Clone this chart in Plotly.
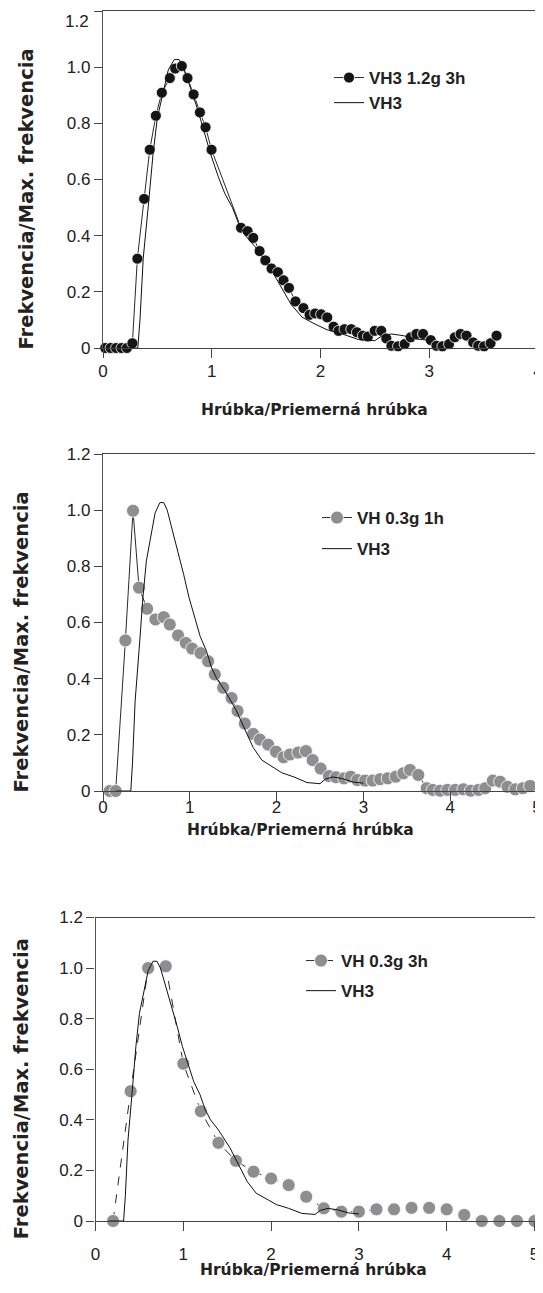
import plotly.graph_objects as go

# ── Data ─────────────────────────────────────────────────────────────────────
vh3_x = [0.15, 0.32, 0.34, 0.37, 0.42, 0.46, 0.50, 0.55, 0.60, 0.655, 0.70, 0.74, 0.80,
         0.87, 0.93, 0.99, 1.06, 1.12, 1.19, 1.25, 1.31, 1.40, 1.53, 1.65, 1.73,
         1.83, 1.94, 2.06, 2.20, 2.35, 2.50, 2.56, 2.65, 2.76, 2.88, 3.00]
vh3_y = [0.0, 0.0, 0.10, 0.32, 0.52, 0.69, 0.82, 0.91, 0.99, 1.027, 1.027, 1.0, 0.93,
         0.85, 0.77, 0.69, 0.61, 0.55, 0.50, 0.44, 0.40, 0.36, 0.29, 0.21, 0.155,
         0.11, 0.087, 0.065, 0.05, 0.03, 0.026, 0.042, 0.05, 0.044, 0.032, 0.028]

s1_x = [0.02, 0.07, 0.12, 0.17, 0.22, 0.27, 0.316, 0.378, 0.43, 0.486, 0.541, 0.615,
        0.664, 0.725, 0.777, 0.833, 0.891, 0.943, 0.998, 1.269, 1.33, 1.382, 1.44,
        1.493, 1.55, 1.608, 1.66, 1.71, 1.77, 1.843, 1.899, 1.951, 2.006, 2.062,
        2.12, 2.166, 2.221, 2.283, 2.335, 2.39, 2.436, 2.498, 2.559, 2.605, 2.652,
        2.713, 2.774, 2.829, 2.882, 2.943, 3.014, 3.066, 3.121, 3.182, 3.235,
        3.288, 3.343, 3.404, 3.45, 3.505, 3.564, 3.619]
s1_y = [0, 0, 0, 0, 0, 0.017, 0.318, 0.531, 0.706, 0.827, 0.909, 0.961, 0.995, 1.004,
        0.961, 0.903, 0.839, 0.786, 0.706, 0.428, 0.416, 0.392, 0.345, 0.312, 0.283,
        0.27, 0.241, 0.214, 0.166, 0.142, 0.118, 0.123, 0.12, 0.109, 0.076, 0.061,
        0.067, 0.067, 0.056, 0.044, 0.041, 0.061, 0.061, 0.034, 0.008, 0.006, 0.014,
        0.038, 0.05, 0.05, 0.028, 0.008, 0.006, 0.014, 0.038, 0.05, 0.044, 0.02,
        0.008, 0.006, 0.017, 0.044]

s2_x = [0.077, 0.146, 0.258, 0.346, 0.415, 0.508, 0.604, 0.70, 0.769, 0.865, 0.954,
        1.027, 1.123, 1.211, 1.288, 1.384, 1.481, 1.55, 1.634, 1.73, 1.807, 1.903,
        1.992, 2.08, 2.153, 2.249, 2.338, 2.415, 2.507, 2.603, 2.684, 2.776, 2.853,
        2.93, 3.019, 3.107, 3.192, 3.28, 3.373, 3.46, 3.537, 3.633, 3.73, 3.799,
        3.884, 3.968, 4.057, 4.152, 4.237, 4.325, 4.403, 4.491, 4.575, 4.66, 4.749,
        4.837, 4.92]
s2_y = [0, 0, 0.536, 0.998, 0.724, 0.649, 0.611, 0.619, 0.593, 0.554, 0.527, 0.507,
        0.491, 0.462, 0.415, 0.368, 0.331, 0.285, 0.24, 0.203, 0.183, 0.165, 0.14,
        0.12, 0.13, 0.137, 0.142, 0.11, 0.08, 0.053, 0.049, 0.045, 0.051, 0.039,
        0.037, 0.037, 0.042, 0.045, 0.051, 0.063, 0.075, 0.057, 0.01, 0.004, 0.001,
        0.004, 0.004, 0.006, 0.001, 0.004, 0.01, 0.037, 0.033, 0.015, 0.006, 0.01,
        0.018]

s3_x = [0.2, 0.4, 0.6, 0.8, 1.0, 1.2, 1.4, 1.6, 1.8, 2.0, 2.2, 2.4, 2.6, 2.8, 3.0,
        3.2, 3.4, 3.6, 3.8, 4.0, 4.2, 4.4, 4.6, 4.8, 5.0]
s3_y = [0, 0.513, 1.0, 1.007, 0.622, 0.434, 0.309, 0.238, 0.195, 0.168, 0.142, 0.096,
        0.05, 0.037, 0.037, 0.046, 0.046, 0.052, 0.052, 0.046, 0.024, 0.0, 0.0, 0.0, 0.0]

series_names = ["VH3 1.2g 3h", "VH 0.3g 1h", "VH 0.3g 3h"]
y_ticks = [0, 0.2, 0.4, 0.6, 0.8, 1.0, 1.2]
y_ticktext = ["0", "0.2", "0.4", "0.6", "0.8", "1.0", "1.2"]
x_title = "Hrúbka/Priemerná hrúbka"
y_title = "Frekvencia/Max. frekvencia"

# the page body keeps its default 8px margin, so the figure is drawn
# 8px smaller and every page position is shifted back by that amount
PAGE_W, PAGE_H, OFF = 543, 1293, 8
W, H = PAGE_W - OFF, PAGE_H - OFF


def fx(px):
    return (px - OFF) / W


def fy(py):
    return 1 - (py - OFF) / H


TICK_FONT = dict(family="Arial, Liberation Sans, sans-serif", size=17, color="#222")
BOLD = "DejaVu Sans, sans-serif"
LEG_FONT = dict(family="Arial, Liberation Sans, sans-serif", size=17, color="#222",
                weight="bold")

# ── Panel geometry (pixels in the 543x1293 page) ─────────────────────────────
panels = [
    dict(sx=s1_x, sy=s1_y, xmax=4, px=(103, 538), py=(11, 348),
         color="#151515", size=11, dash="solid", standoff=-2,
         leg=(329, 60, 0), ytl=26, xtl=(314, 410), top_label=False),
    dict(sx=s2_x, sy=s2_y, xmax=5, px=(103, 537), py=(454, 791),
         color="#8e8e90", size=13, dash="solid", standoff=-9,
         leg=(317, 500, 6), ytl=21, xtl=(300, 830), top_label=True),
    dict(sx=s3_x, sy=s3_y, xmax=5, px=(95.5, 534.5), py=(917.5, 1221),
         color="#8e8e90", size=13, dash="dash", standoff=8,
         leg=(301, 943, 5), ytl=21, xtl=(313, 1270), top_label=True),
]

fig = go.Figure()
annotations = []

for i, p in enumerate(panels):
    n = i + 1
    sfx = "" if n == 1 else str(n)
    leg = "legend" if n == 1 else f"legend{n}"
    grp = p["leg"][2] > 0

    fig.add_trace(go.Scatter(
        x=p["sx"], y=p["sy"], mode="lines+markers", name=series_names[i],
        xaxis=f"x{sfx}", yaxis=f"y{sfx}", legend=leg,
        legendgroup=f"a{n}" if grp else None,
        cliponaxis=False,
        line=dict(color="#2a2a2a", width=1, dash=p["dash"]),
        marker=dict(color=p["color"], size=p["size"],
                    line=dict(color="white", width=0.8)),
    ))
    fig.add_trace(go.Scatter(
        x=vh3_x, y=vh3_y, mode="lines", name="VH3",
        xaxis=f"x{sfx}", yaxis=f"y{sfx}", legend=leg,
        legendgroup=f"b{n}" if grp else None,
        cliponaxis=False,
        line=dict(color="#111", width=1),
    ))

    xd = [fx(p["px"][0]), fx(p["px"][1])]
    yd = [fy(p["py"][1]), fy(p["py"][0])]

    ticktext = list(y_ticktext)
    if not p["top_label"]:
        # top label sits lower in the reference (page edge); drawn as annotation
        ticktext[-1] = ""
        annotations.append(dict(
            text=y_ticktext[-1], xref="paper", yref="paper",
            x=fx(91), y=fy(21.5), xanchor="right", yanchor="middle",
            showarrow=False, font=TICK_FONT,
        ))

    common_x = dict(domain=xd, range=[0, p["xmax"]], tickvals=list(range(p["xmax"] + 1)),
                    showgrid=False, zeroline=False, fixedrange=True, automargin=False)
    common_y = dict(domain=yd, range=[0, 1.2], tickvals=y_ticks,
                    showgrid=False, zeroline=False, fixedrange=True, automargin=False)

    fig.update_layout({
        f"xaxis{sfx}": dict(**common_x, anchor=f"y{sfx}", showline=True, mirror=True,
                            linecolor="#444", linewidth=1.2, ticks="outside",
                            ticklen=9, tickcolor="#444", tickfont=TICK_FONT,
                            ticklabelstandoff=p["standoff"], ticklabeloverflow="allow"),
        f"yaxis{sfx}": dict(**common_y, anchor=f"x{sfx}", showline=True, mirror=True,
                            linecolor="#555", linewidth=1.2, ticks="outside",
                            ticklen=8, tickcolor="#444", tickfont=TICK_FONT,
                            ticktext=ticktext, ticklabeloverflow="allow"),
        # overlay axes give the ticks that cross the axis line
        f"xaxis{n + 3}": dict(**common_x, overlaying=f"x{sfx}", anchor=f"y{sfx}",
                              side="bottom", showline=False, ticks="inside",
                              ticklen=9, tickcolor="#444", showticklabels=False),
        f"yaxis{n + 3}": dict(**common_y, overlaying=f"y{sfx}", anchor=f"x{sfx}",
                              side="left", showline=False, ticks="inside",
                              ticklen=8, tickcolor="#444", showticklabels=False),
        leg: dict(x=fx(p["leg"][0]), y=fy(p["leg"][1]), xanchor="left",
                  yanchor="top", bgcolor="rgba(0,0,0,0)", itemwidth=30,
                  tracegroupgap=p["leg"][2], font=LEG_FONT),
    })

    annotations.append(dict(
        text=y_title, textangle=-90, xref="paper", yref="paper",
        x=fx(p["ytl"]), y=fy((p["py"][0] + p["py"][1]) / 2 + 20),
        xanchor="center", yanchor="middle", showarrow=False,
        font=dict(family=BOLD, size=19.5, color="#222", weight="bold"),
    ))
    annotations.append(dict(
        text=x_title, xref="paper", yref="paper",
        x=fx(p["xtl"][0]), y=fy(p["xtl"][1]),
        xanchor="center", yanchor="middle", showarrow=False,
        font=dict(family=BOLD, size=15.5, color="#222", weight="bold"),
    ))

fig.update_layout(
    width=W, height=H, autosize=False,
    margin=dict(l=0, r=0, t=0, b=0, autoexpand=False),
    paper_bgcolor="white", plot_bgcolor="white",
    annotations=annotations,
)

fig.write_html("out.html", config={"displayModeBar": False})
